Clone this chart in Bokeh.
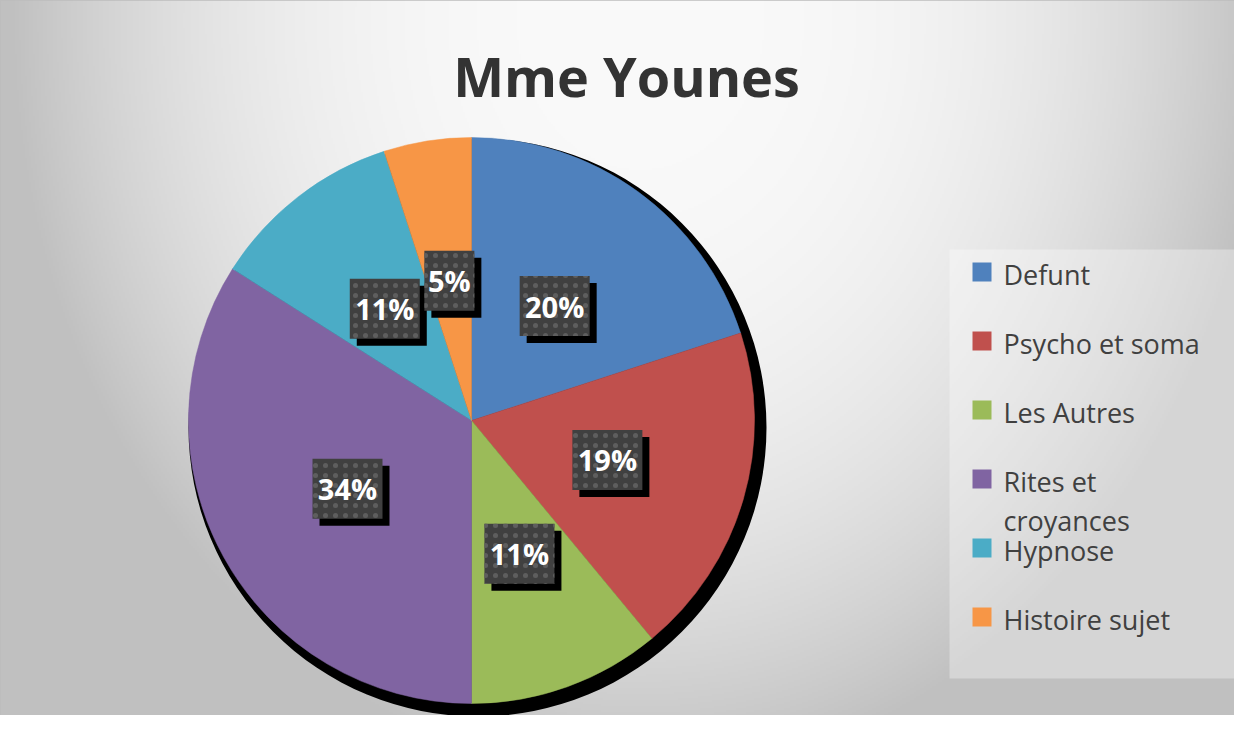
import textwrap
import numpy as np
from bokeh.plotting import figure
from bokeh.models import Range1d
from bokeh.core.properties import value
from bokeh.embed import file_html
from bokeh.resources import INLINE

# ---- data ----
title = "Mme Younes"
categories = ["Defunt", "Psycho et soma", "Les Autres", "Rites et croyances", "Hypnose", "Histoire sujet"]
percents = [20, 19, 11, 34, 11, 5]
colors = ["#4F81BD", "#C0504D", "#9BBB59", "#8064A2", "#4BACC6", "#F79646"]

# ---- canvas ----
W, H = 1234, 715


def X(xr):
    return xr


def Y(yr):
    return H - yr


p = figure(width=W, height=H, x_range=Range1d(0, W), y_range=Range1d(0, H),
           output_backend="svg", toolbar_location=None,
           x_axis_type=None, y_axis_type=None, min_border=0)
p.grid.visible = False
p.outline_line_color = "#bdbdbd"
p.outline_line_width = 2
p.background_fill_color = "#cccccc"
p.border_fill_color = "white"

# radial gradient background
step = 2
nx, ny = W // step + 1, H // step + 1
px = (np.arange(nx) + 0.5) * step
py = (np.arange(ny) + 0.5) * step
PX, PY = np.meshgrid(px, py)
gcx, gcy = 640.0, 20.0
t = np.sqrt(((PX - gcx) / 630.0) ** 2 + ((PY - gcy) / 760.0) ** 2)
t = np.clip(t, 0, 1)
g = (250 - 58 * t ** 2.5).astype(np.uint8)
img = np.empty((ny, nx), dtype=np.uint32)
view = img.view(dtype=np.uint8).reshape((ny, nx, 4))
view[..., 0] = g
view[..., 1] = g
view[..., 2] = g
view[..., 3] = 255
img = np.flipud(img).copy()
p.image_rgba(image=[img], x=0, y=H - ny * step, dw=nx * step, dh=ny * step)

# ---- title ----
p.text(x=[X(626)], y=[Y(75)], text=[title], text_align="center", text_baseline="middle",
       text_font=value("Open Sans"), text_font_style="bold", text_font_size="54px",
       text_color="#333333")

# ---- pie ----
cx, cy, R = X(471), Y(420), 283
vals = np.array(percents, dtype=float)
frac = vals / vals.sum()
cum = np.cumsum(frac)
start_cw = cum - frac
a_start = np.pi / 2 - 2 * np.pi * cum
a_end = np.pi / 2 - 2 * np.pi * start_cw

# shadow
p.circle(x=[cx + 6], y=[cy - 7], radius=289, fill_color="black", line_color=None)

p.wedge(x=cx, y=cy, radius=R, start_angle=a_start, end_angle=a_end, direction="anticlock",
        fill_color=colors, line_color=colors, line_width=0.5)

# ---- data labels ----
mid = start_cw + frac / 2
theta = np.pi / 2 - 2 * np.pi * mid
lr = 0.5 * R
lx = cx + lr * np.cos(theta)
ly = cy + lr * np.sin(theta)
labels = [f"{v}%" for v in percents]
bw = [20 * len(s) + 10 for s in labels]

p.rect(x=lx + 7, y=ly - 7, width=bw, height=60, fill_color="black", line_color=None)
p.rect(x=lx, y=ly, width=bw, height=60, fill_color="#404040", line_color=None,
       hatch_pattern="dot", hatch_color="#5e5e5e", hatch_scale=10, hatch_weight=4)
p.text(x=lx, y=ly, text=labels, text_align="center", text_baseline="middle",
       text_font=value("Open Sans"), text_font_style="bold", text_font_size="29px",
       text_color="white")

# ---- legend ----
p.quad(left=[X(949)], right=[X(1234)], top=[Y(249)], bottom=[Y(678)],
       fill_color="white", fill_alpha=0.33, line_color=None)

item_y = [271.5 + 69 * i for i in range(len(categories))]
p.rect(x=[X(981.5)] * len(categories), y=[Y(v) for v in item_y], width=19, height=19,
       fill_color=colors, line_color=None)

tx, ty, tt = [], [], []
for i, name in enumerate(categories):
    for j, line in enumerate(textwrap.wrap(name, 14)):
        tx.append(X(1003))
        ty.append(Y(item_y[i] + 2 + 39 * j))
        tt.append(line)
p.text(x=tx, y=ty, text=tt, text_align="left", text_baseline="middle",
       text_font=value("Open Sans"), text_font_size="27px", text_color="#404040")

open("out.html", "w").write(file_html(p, INLINE))
